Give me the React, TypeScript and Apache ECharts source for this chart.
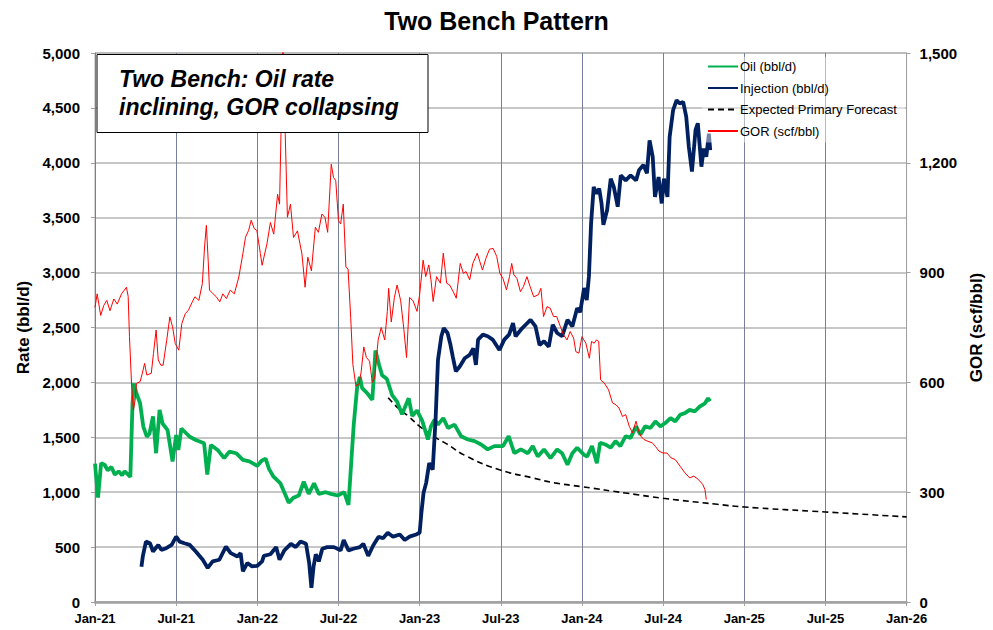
import React, { useEffect, useRef } from 'react';
import * as echarts from 'echarts';

const xTickLabels = ['Jan-21', 'Jul-21', 'Jan-22', 'Jul-22', 'Jan-23', 'Jul-23', 'Jan-24', 'Jul-24', 'Jan-25', 'Jul-25', 'Jan-26'];

const oilRate: [string, number][] = [
  ['2021-01-01', 1260], ['2021-01-08', 950], ['2021-01-15', 1265], ['2021-01-23', 1250], ['2021-01-30', 1200],
  ['2021-02-07', 1230], ['2021-02-14', 1160], ['2021-02-22', 1190], ['2021-03-01', 1155], ['2021-03-07', 1190],
  ['2021-03-15', 1160], ['2021-03-20', 1140], ['2021-03-25', 1810], ['2021-03-28', 1990], ['2021-04-03', 1900],
  ['2021-04-11', 1810], ['2021-04-18', 1600], ['2021-04-26', 1505], ['2021-05-02', 1535], ['2021-05-10', 1690],
  ['2021-05-17', 1355], ['2021-05-25', 1750], ['2021-06-01', 1625], ['2021-06-12', 1565], ['2021-06-23', 1280],
  ['2021-07-01', 1520], ['2021-07-06', 1385], ['2021-07-13', 1580], ['2021-08-01', 1505], ['2021-08-15', 1475],
  ['2021-09-03', 1445], ['2021-09-10', 1160], ['2021-09-18', 1430], ['2021-10-03', 1385], ['2021-10-18', 1310],
  ['2021-10-30', 1370], ['2021-11-14', 1355], ['2021-11-29', 1295], ['2021-12-14', 1280], ['2022-01-01', 1240],
  ['2022-01-12', 1290], ['2022-01-20', 1305], ['2022-01-28', 1210], ['2022-02-06', 1145], ['2022-02-21', 1080],
  ['2022-03-04', 970], ['2022-03-11', 905], ['2022-03-22', 950], ['2022-04-03', 970], ['2022-04-14', 1095],
  ['2022-04-25', 985], ['2022-05-07', 1080], ['2022-05-18', 985], ['2022-06-03', 1000], ['2022-06-14', 985],
  ['2022-06-29', 970], ['2022-07-14', 1000], ['2022-07-24', 885], ['2022-07-29', 1195], ['2022-08-05', 1615],
  ['2022-08-13', 1965], ['2022-08-19', 2050], ['2022-08-24', 1950], ['2022-09-04', 1905], ['2022-09-16', 1840],
  ['2022-09-23', 2290], ['2022-10-01', 2160], ['2022-10-08', 2065], ['2022-10-19', 2030], ['2022-10-31', 1885],
  ['2022-11-11', 1825], ['2022-11-22', 1710], ['2022-12-07', 1855], ['2022-12-15', 1695], ['2022-12-26', 1745],
  ['2023-01-07', 1650], ['2023-01-20', 1480], ['2023-01-27', 1600], ['2023-02-04', 1660], ['2023-02-11', 1615],
  ['2023-02-22', 1675], ['2023-03-04', 1585], ['2023-03-19', 1615], ['2023-04-03', 1510], ['2023-04-18', 1480],
  ['2023-05-03', 1465], ['2023-05-18', 1435], ['2023-06-02', 1390], ['2023-06-17', 1420], ['2023-07-06', 1420],
  ['2023-07-19', 1510], ['2023-08-01', 1355], ['2023-08-16', 1390], ['2023-09-01', 1355], ['2023-09-12', 1420],
  ['2023-09-23', 1325], ['2023-10-07', 1390], ['2023-10-22', 1310], ['2023-11-06', 1390], ['2023-11-17', 1355],
  ['2023-11-29', 1250], ['2023-12-10', 1355], ['2023-12-21', 1405], ['2024-01-06', 1340], ['2024-01-13', 1325],
  ['2024-01-24', 1420], ['2024-02-04', 1265], ['2024-02-11', 1450], ['2024-02-22', 1435], ['2024-03-05', 1405],
  ['2024-03-16', 1465], ['2024-03-27', 1420], ['2024-04-08', 1510], ['2024-04-19', 1495], ['2024-05-01', 1600],
  ['2024-05-11', 1525], ['2024-05-22', 1600], ['2024-06-03', 1585], ['2024-06-14', 1645], ['2024-06-25', 1600],
  ['2024-07-06', 1630], ['2024-07-18', 1675], ['2024-07-29', 1645], ['2024-08-09', 1705], ['2024-08-20', 1720],
  ['2024-08-31', 1750], ['2024-09-11', 1735], ['2024-09-22', 1780], ['2024-10-04', 1810], ['2024-10-11', 1855],
  ['2024-10-16', 1830],
];

const injectionRate: [string, number][] = [
  ['2021-04-14', 320], ['2021-04-17', 415], ['2021-04-24', 550], ['2021-05-03', 535], ['2021-05-10', 460],
  ['2021-05-22', 520], ['2021-05-29', 475], ['2021-06-09', 490], ['2021-06-21', 520], ['2021-07-01', 595],
  ['2021-07-09', 550], ['2021-07-20', 535], ['2021-08-01', 520], ['2021-08-15', 460], ['2021-08-31', 385],
  ['2021-09-11', 310], ['2021-09-22', 370], ['2021-10-07', 385], ['2021-10-22', 505], ['2021-11-02', 445],
  ['2021-11-17', 415], ['2021-11-24', 445], ['2021-11-29', 280], ['2021-12-09', 355], ['2021-12-20', 325],
  ['2022-01-01', 330], ['2022-01-12', 370], ['2022-01-16', 420], ['2022-01-31', 435], ['2022-02-12', 500],
  ['2022-02-19', 385], ['2022-03-01', 470], ['2022-03-16', 530], ['2022-03-27', 500], ['2022-04-07', 550],
  ['2022-04-19', 530], ['2022-04-26', 355], ['2022-05-01', 130], ['2022-05-06', 325], ['2022-05-11', 435],
  ['2022-05-18', 370], ['2022-05-26', 485], ['2022-06-06', 500], ['2022-06-21', 500], ['2022-07-06', 470],
  ['2022-07-13', 565], ['2022-07-24', 470], ['2022-08-04', 485], ['2022-08-19', 500], ['2022-08-27', 530],
  ['2022-09-07', 420], ['2022-09-18', 515], ['2022-09-30', 595], ['2022-10-10', 580], ['2022-10-21', 630],
  ['2022-11-02', 595], ['2022-11-17', 615], ['2022-11-28', 565], ['2022-12-09', 595], ['2022-12-24', 615],
  ['2023-01-01', 630], ['2023-01-05', 810], ['2023-01-10', 995], ['2023-01-16', 1085], ['2023-01-23', 1265],
  ['2023-01-31', 1205], ['2023-02-06', 1660], ['2023-02-11', 2205], ['2023-02-18', 2420], ['2023-02-23', 2495],
  ['2023-03-03', 2450], ['2023-03-09', 2355], ['2023-03-15', 2235], ['2023-03-22', 2100], ['2023-03-31', 2145],
  ['2023-04-11', 2220], ['2023-04-22', 2250], ['2023-04-30', 2310], ['2023-05-06', 2160], ['2023-05-11', 2390],
  ['2023-05-22', 2435], ['2023-06-02', 2420], ['2023-06-13', 2390], ['2023-06-28', 2295], ['2023-07-09', 2390],
  ['2023-07-20', 2435], ['2023-07-29', 2540], ['2023-08-04', 2420], ['2023-08-16', 2480], ['2023-08-27', 2525],
  ['2023-09-07', 2570], ['2023-09-18', 2510], ['2023-09-27', 2340], ['2023-10-07', 2375], ['2023-10-18', 2325],
  ['2023-10-27', 2525], ['2023-11-06', 2450], ['2023-11-17', 2420], ['2023-11-29', 2570], ['2023-12-10', 2510],
  ['2023-12-21', 2675], ['2023-12-28', 2640], ['2024-01-06', 2860], ['2024-01-12', 2750], ['2024-01-17', 2965],
  ['2024-01-22', 3450], ['2024-01-28', 3780], ['2024-02-03', 3720], ['2024-02-09', 3765], ['2024-02-14', 3630],
  ['2024-02-18', 3435], ['2024-02-26', 3570], ['2024-03-05', 3855], ['2024-03-12', 3780], ['2024-03-21', 3600],
  ['2024-03-28', 3885], ['2024-04-08', 3840], ['2024-04-19', 3885], ['2024-05-01', 3840], ['2024-05-08', 3935],
  ['2024-05-18', 3980], ['2024-05-26', 3905], ['2024-06-01', 4205], ['2024-06-08', 4055], ['2024-06-13', 3690],
  ['2024-06-21', 3870], ['2024-06-28', 3630], ['2024-07-03', 3855], ['2024-07-11', 3690], ['2024-07-16', 4235],
  ['2024-07-24', 4480], ['2024-08-01', 4570], ['2024-08-08', 4540], ['2024-08-16', 4555], ['2024-08-23', 4420],
  ['2024-08-29', 4145], ['2024-09-05', 3920], ['2024-09-13', 4300], ['2024-09-18', 4360], ['2024-09-26', 3965],
  ['2024-10-01', 4130], ['2024-10-07', 4055], ['2024-10-13', 4265], ['2024-10-16', 4115],
];

const primaryForecast: [string, number][] = [
  ['2022-10-22', 1860], ['2022-11-15', 1760], ['2022-12-07', 1690], ['2023-01-01', 1600], ['2023-02-07', 1495],
  ['2023-03-01', 1440], ['2023-04-14', 1330], ['2023-06-28', 1205], ['2023-09-12', 1130], ['2023-11-01', 1085],
  ['2024-01-01', 1050], ['2024-04-12', 990], ['2024-07-01', 945], ['2024-11-01', 890], ['2025-01-01', 865],
  ['2025-07-01', 820], ['2026-01-01', 775],
];

const gorValues: [string, number][] = [
  ['2021-01-01', 805], ['2021-01-06', 842], ['2021-01-14', 783], ['2021-01-21', 810], ['2021-01-28', 824],
  ['2021-02-04', 796], ['2021-02-12', 828], ['2021-02-19', 814], ['2021-02-28', 842], ['2021-03-11', 860],
  ['2021-03-15', 835], ['2021-03-18', 725], ['2021-03-23', 590], ['2021-03-27', 524], ['2021-03-31', 552],
  ['2021-04-03', 597], ['2021-04-11', 602], ['2021-04-16', 625], ['2021-04-21', 652], ['2021-04-26', 620],
  ['2021-05-06', 625], ['2021-05-11', 679], ['2021-05-17', 743], ['2021-05-22', 661], ['2021-05-28', 647],
  ['2021-06-02', 647], ['2021-06-10', 715], ['2021-06-17', 779], ['2021-06-23', 752], ['2021-06-29', 706],
  ['2021-07-07', 688], ['2021-07-14', 761], ['2021-07-22', 788], ['2021-07-29', 797], ['2021-08-07', 820],
  ['2021-08-13', 834], ['2021-08-22', 824], ['2021-08-30', 870], ['2021-09-04', 970], ['2021-09-08', 1029],
  ['2021-09-12', 934], ['2021-09-15', 852], ['2021-09-23', 842], ['2021-09-30', 834], ['2021-10-08', 820],
  ['2021-10-15', 842], ['2021-10-23', 829], ['2021-11-01', 852], ['2021-11-10', 842], ['2021-11-20', 888],
  ['2021-11-29', 952], ['2021-12-05', 997], ['2021-12-12', 1015], ['2021-12-18', 1043], ['2021-12-25', 1020],
  ['2021-12-31', 1015], ['2022-01-08', 952], ['2022-01-12', 920], ['2022-01-23', 978], ['2022-01-31', 1037],
  ['2022-02-07', 1005], ['2022-02-15', 1114], ['2022-02-19', 1087], ['2022-02-22', 1278], ['2022-02-26', 1540],
  ['2022-03-03', 1278], ['2022-03-08', 1051], ['2022-03-15', 1087], ['2022-03-22', 996], ['2022-03-31', 1014],
  ['2022-04-10', 951], ['2022-04-17', 860], ['2022-04-23', 942], ['2022-05-01', 905], ['2022-05-10', 1024],
  ['2022-05-17', 1010], ['2022-05-25', 1060], ['2022-06-01', 1051], ['2022-06-07', 1010], ['2022-06-15', 1196],
  ['2022-06-20', 1160], ['2022-06-25', 1151], ['2022-07-01', 1042], ['2022-07-06', 1033], ['2022-07-12', 1087],
  ['2022-07-18', 915], ['2022-07-23', 910], ['2022-07-29', 778], ['2022-08-03', 649], ['2022-08-10', 590],
  ['2022-08-17', 595], ['2022-08-22', 629], ['2022-08-28', 697], ['2022-09-03', 668], ['2022-09-10', 658],
  ['2022-09-16', 600], ['2022-09-21', 610], ['2022-09-29', 716], ['2022-10-06', 750], ['2022-10-14', 716],
  ['2022-10-20', 794], ['2022-10-23', 857], ['2022-10-29', 765], ['2022-11-05', 832], ['2022-11-11', 866],
  ['2022-11-19', 823], ['2022-11-26', 745], ['2022-12-02', 668], ['2022-12-09', 832], ['2022-12-17', 823],
  ['2022-12-26', 794], ['2023-01-01', 840], ['2023-01-09', 934], ['2023-01-15', 889], ['2023-01-22', 921],
  ['2023-01-27', 880], ['2023-02-01', 821], ['2023-02-08', 889], ['2023-02-16', 871], ['2023-02-22', 953],
  ['2023-03-01', 871], ['2023-03-08', 866], ['2023-03-16', 848], ['2023-03-23', 830], ['2023-04-01', 925],
  ['2023-04-08', 898], ['2023-04-14', 903], ['2023-04-22', 880], ['2023-04-29', 925], ['2023-05-09', 953],
  ['2023-05-15', 930], ['2023-05-21', 907], ['2023-05-29', 939], ['2023-06-06', 964], ['2023-06-14', 966],
  ['2023-06-22', 944], ['2023-06-29', 898], ['2023-07-06', 884], ['2023-07-14', 853], ['2023-07-21', 889],
  ['2023-07-26', 925], ['2023-07-31', 894], ['2023-08-07', 884], ['2023-08-15', 848], ['2023-08-22', 862],
  ['2023-08-30', 889], ['2023-09-06', 862], ['2023-09-14', 834], ['2023-09-24', 839], ['2023-09-30', 857],
  ['2023-10-06', 780], ['2023-10-14', 807], ['2023-10-21', 803], ['2023-10-29', 780], ['2023-11-05', 780],
  ['2023-11-13', 753], ['2023-11-20', 730], ['2023-11-28', 716], ['2023-12-05', 739], ['2023-12-13', 721],
  ['2023-12-18', 684], ['2023-12-25', 680], ['2024-01-01', 725], ['2024-01-10', 707], ['2024-01-18', 666],
  ['2024-01-23', 712], ['2024-01-29', 707], ['2024-02-03', 716], ['2024-02-08', 712], ['2024-02-12', 607],
  ['2024-02-20', 598], ['2024-02-29', 580], ['2024-03-09', 544], ['2024-03-17', 539], ['2024-03-24', 530],
  ['2024-04-01', 507], ['2024-04-08', 512], ['2024-04-16', 480], ['2024-04-23', 462], ['2024-05-01', 494],
  ['2024-05-06', 471], ['2024-05-12', 453], ['2024-05-19', 444], ['2024-05-28', 439], ['2024-06-07', 435],
  ['2024-06-14', 425], ['2024-06-22', 412], ['2024-07-01', 407], ['2024-07-10', 407], ['2024-07-19', 394],
  ['2024-07-29', 389], ['2024-08-09', 371], ['2024-08-20', 353], ['2024-08-31', 339], ['2024-09-09', 344],
  ['2024-09-19', 335], ['2024-09-29', 321], ['2024-10-04', 307], ['2024-10-07', 280],
];

// months since Jan 2021 (fractional)
const toMonth = (s: string) => {
  const [y, m, d] = s.split('-').map(Number);
  const dim = new Date(y, m, 0).getDate();
  return (y - 2021) * 12 + (m - 1) + (d - 1) / dim;
};
const toPts = (arr: [string, number][]) => arr.map(([d, v]) => [toMonth(d), v]);

const FONT = "'Liberation Sans', Arial, Helvetica, sans-serif";

export default function App() {
  const ref = useRef<HTMLDivElement>(null);
  useEffect(() => {
    if (!ref.current) return;
    const chart = echarts.init(ref.current, null, { renderer: 'svg' });
    chart.setOption({
      animation: false,
      backgroundColor: '#ffffff',
      title: {
        text: 'Two Bench Pattern',
        left: 'center',
        top: 8,
        padding: 0,
        textStyle: { fontFamily: FONT, fontSize: 25, fontWeight: 'bold', color: '#000' },
      },
      grid: { left: 95, right: 83, top: 53, bottom: 28, show: true, borderColor: '#a6a6a6', borderWidth: 1 },
      legend: {
        orient: 'vertical',
        left: 702,
        top: 57,
        padding: [3, 8, 5, 5],
        itemGap: 8.5,
        itemWidth: 30,
        itemHeight: 14,
        backgroundColor: 'rgba(255,255,255,0.45)',
        itemStyle: { opacity: 0 },
        data: ['Oil (bbl/d)', 'Injection (bbl/d)', 'Expected Primary Forecast', 'GOR (scf/bbl)'],
        textStyle: { fontFamily: FONT, fontSize: 13, color: '#000', padding: [0, 0, 0, -3] },
      },
      xAxis: {
        type: 'value',
        min: 0,
        max: 60,
        interval: 6,
        axisLine: { show: true, lineStyle: { color: '#a0a0a0', width: 2.5 } },
        axisTick: { show: true, length: 4, lineStyle: { color: '#a0a0a0' } },
        splitLine: { show: true, lineStyle: { color: '#76809a', width: 1 } },
        axisLabel: {
          margin: 10,
          fontFamily: FONT,
          fontSize: 13,
          fontWeight: 'bold',
          color: '#000',
          formatter: (v: number) => xTickLabels[Math.round(v / 6)] ?? '',
        },
      },
      yAxis: [
        {
          type: 'value',
          min: 0,
          max: 5000,
          interval: 500,
          name: 'Rate (bbl/d)',
          nameLocation: 'middle',
          nameRotate: 90,
          nameGap: 62,
          nameTextStyle: { fontFamily: FONT, fontSize: 17, fontWeight: 'bold', color: '#000' },
          axisLine: { show: true, lineStyle: { color: '#76809a', width: 1 } },
          axisTick: { show: true, length: 4, lineStyle: { color: '#a0a0a0' } },
          splitLine: { show: true, lineStyle: { color: '#b5b5b5', width: 1.6 } },
          axisLabel: {
            margin: 15,
            fontFamily: FONT,
            fontSize: 15,
            fontWeight: 'bold',
            color: '#000',
            formatter: (v: number) => v.toLocaleString('en-US'),
          },
        },
        {
          type: 'value',
          min: 0,
          max: 1500,
          interval: 300,
          name: 'GOR (scf/bbl)',
          nameLocation: 'middle',
          nameRotate: 90,
          nameGap: 58,
          nameTextStyle: { fontFamily: FONT, fontSize: 17, fontWeight: 'bold', color: '#000' },
          axisLine: { show: true, lineStyle: { color: '#a0a0a0', width: 1 } },
          axisTick: { show: true, length: 4, lineStyle: { color: '#a0a0a0' } },
          splitLine: { show: false },
          axisLabel: {
            margin: 13,
            fontFamily: FONT,
            fontSize: 15,
            fontWeight: 'bold',
            color: '#000',
            formatter: (v: number) => v.toLocaleString('en-US'),
          },
        },
      ],
      series: [
        {
          name: 'Expected Primary Forecast',
          type: 'line',
          yAxisIndex: 0,
          data: toPts(primaryForecast),
          symbol: 'none',
          showSymbol: false,
          smooth: true,
          lineStyle: { color: '#000', width: 1.6, type: [6, 4] },
          itemStyle: { color: '#000' },
        },
        {
          name: 'Oil (bbl/d)',
          type: 'line',
          yAxisIndex: 0,
          data: toPts(oilRate),
          symbol: 'none',
          showSymbol: false,
          lineStyle: { color: '#00b050', width: 3.8 },
          itemStyle: { color: '#00b050' },
        },
        {
          name: 'Injection (bbl/d)',
          type: 'line',
          yAxisIndex: 0,
          data: toPts(injectionRate),
          symbol: 'none',
          showSymbol: false,
          lineStyle: { color: '#002060', width: 3.8 },
          itemStyle: { color: '#002060' },
        },
        {
          name: 'GOR (scf/bbl)',
          type: 'line',
          yAxisIndex: 1,
          data: toPts(gorValues),
          symbol: 'none',
          showSymbol: false,
          lineStyle: { color: '#ff0000', width: 1 },
          itemStyle: { color: '#ff0000' },
        },
      ],
      graphic: [
        {
          type: 'rect',
          z: 100,
          shape: { x: 97, y: 54.5, width: 331, height: 78 },
          style: { fill: '#ffffff', stroke: '#000000', lineWidth: 1 },
        },
        {
          type: 'text',
          z: 101,
          x: 119,
          y: 78.7,
          style: {
            text: 'Two Bench: Oil rate',
            fontFamily: FONT,
            fontSize: 23,
            fontWeight: 'bold',
            fontStyle: 'italic',
            fill: '#000',
            verticalAlign: 'middle',
          },
        },
        {
          type: 'text',
          z: 101,
          x: 119,
          y: 107.2,
          style: {
            text: 'inclining, GOR collapsing',
            fontFamily: FONT,
            fontSize: 23,
            fontWeight: 'bold',
            fontStyle: 'italic',
            fill: '#000',
            verticalAlign: 'middle',
          },
        },
      ],
    });
    return () => chart.dispose();
  }, []);
  return <div ref={ref} style={{ position: 'absolute', left: 0, top: 0, width: 993, height: 630 }} />;
}
